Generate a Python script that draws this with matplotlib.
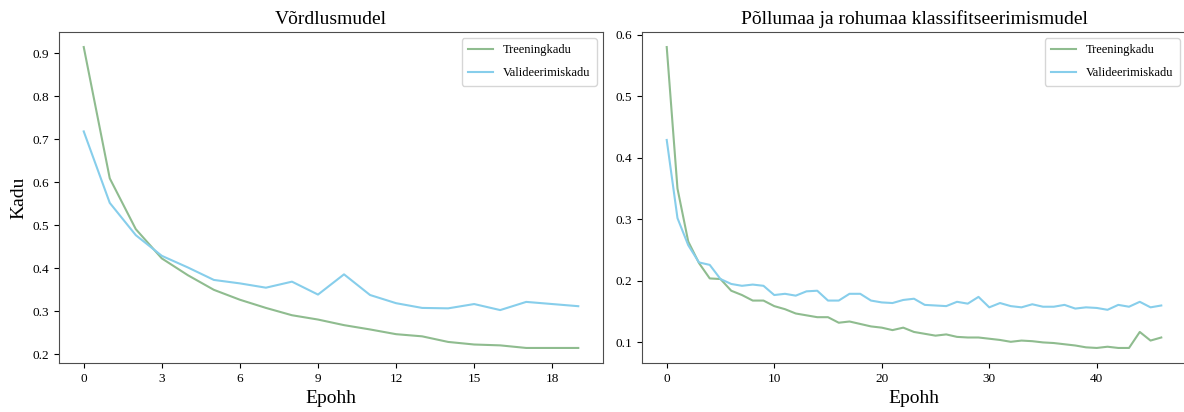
import matplotlib
matplotlib.use("Agg")
import matplotlib.pyplot as plt

plt.rcParams['font.family'] = ['Liberation Serif', 'DejaVu Serif']

# Left: Võrdlusmudel
left_epochs = list(range(20))
left_train = [0.914, 0.609, 0.491, 0.423, 0.384, 0.350, 0.327, 0.308, 0.291, 0.281,
              0.268, 0.258, 0.247, 0.242, 0.229, 0.223, 0.221, 0.215, 0.215, 0.215]
left_val = [0.718, 0.552, 0.477, 0.429, 0.402, 0.373, 0.365, 0.355, 0.369, 0.339,
            0.386, 0.338, 0.319, 0.308, 0.307, 0.317, 0.303, 0.322, 0.317, 0.312]
left_xticks = [0, 3, 6, 9, 12, 15, 18]

# Right: Põllumaa ja rohumaa klassifitseerimismudel
right_epochs = list(range(47))
right_train = [0.580, 0.350, 0.264, 0.229, 0.204, 0.203, 0.184, 0.177, 0.168, 0.168,
               0.159, 0.154, 0.147, 0.144, 0.141, 0.141, 0.132, 0.134, 0.130, 0.126,
               0.124, 0.120, 0.124, 0.117, 0.114, 0.111, 0.113, 0.109, 0.108, 0.108,
               0.106, 0.104, 0.101, 0.103, 0.102, 0.100, 0.099, 0.097, 0.095, 0.092,
               0.091, 0.093, 0.091, 0.091, 0.117, 0.103, 0.108]
right_val = [0.429, 0.302, 0.258, 0.230, 0.226, 0.203, 0.195, 0.192, 0.194, 0.192,
             0.177, 0.179, 0.176, 0.183, 0.184, 0.168, 0.168, 0.179, 0.179, 0.168,
             0.165, 0.164, 0.169, 0.171, 0.161, 0.160, 0.159, 0.166, 0.163, 0.174,
             0.157, 0.164, 0.159, 0.157, 0.162, 0.158, 0.158, 0.161, 0.155, 0.157,
             0.156, 0.153, 0.161, 0.158, 0.166, 0.157, 0.160]

titles = ["Võrdlusmudel", "Põllumaa ja rohumaa klassifitseerimismudel"]
labels = ["Treeningkadu", "Valideerimiskadu"]
train_color = "#8fbc8f"
val_color = "#87ceeb"

W, H = 1184, 412
fig = plt.figure(figsize=(W / 100, H / 100), dpi=100)
ax1 = fig.add_axes([59 / W, 49 / H, 544 / W, 331 / H])
ax2 = fig.add_axes([642 / W, 49 / H, 544 / W, 331 / H])

for ax, x, tr, va, title in [(ax1, left_epochs, left_train, left_val, titles[0]),
                             (ax2, right_epochs, right_train, right_val, titles[1])]:
    ax.plot(x, tr, color=train_color, lw=1.5, label=labels[0])
    ax.plot(x, va, color=val_color, lw=1.5, label=labels[1])
    ax.set_title(title, fontsize=14)
    ax.set_xlabel("Epohh", fontsize=14)
    ax.tick_params(labelsize=9.5)
    for s in ax.spines.values():
        s.set_color('0.3')
    ax.legend(loc='upper right', fontsize=9, labelspacing=0.88, borderpad=0.5)

ax1.set_xticks(left_xticks)
ax1.set_ylabel("Kadu", fontsize=14)

fig.savefig("out.png", dpi=100)
